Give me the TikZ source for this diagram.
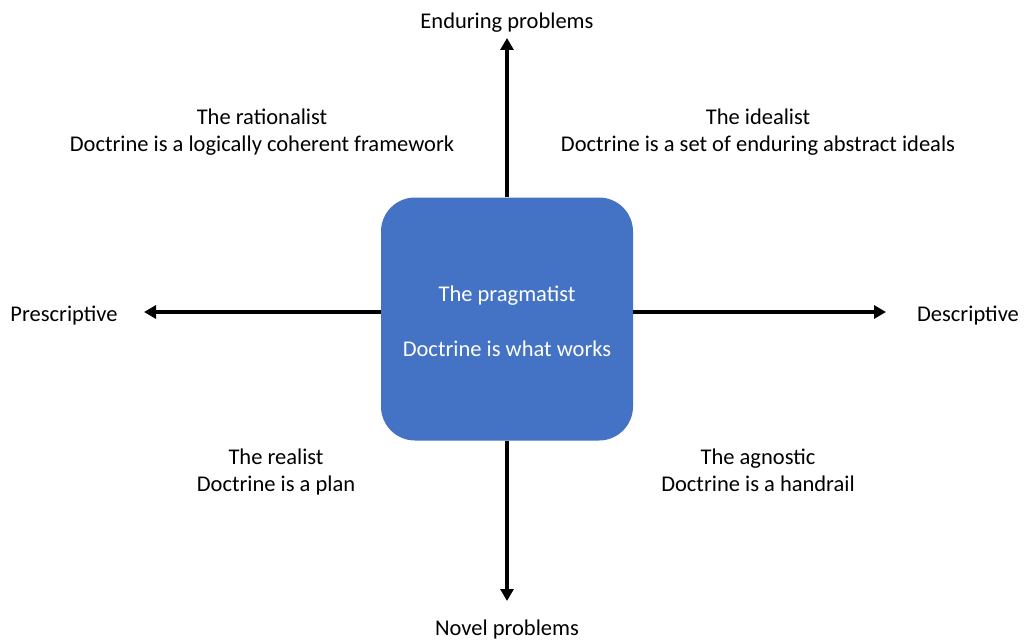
\documentclass[tikz,border=0pt]{standalone}
\usepackage{fontspec}
\setmainfont{Carlito}
\usetikzlibrary{arrows.meta}
\definecolor{boxblue}{HTML}{4472C4}
\begin{document}
\begin{tikzpicture}[x=1pt,y=-1pt,
  lbl/.style={font=\fontsize{22.5}{27}\selectfont, text=black, align=center, inner sep=0pt},
  axis/.style={line width=3.4pt, -{Triangle[length=12pt,width=13pt]}},
  ]
\useasboundingbox (0,0) rectangle (1024,639);
\node[fill=boxblue, rounded corners=34pt, minimum width=252pt, minimum height=243pt, inner sep=0pt] (box) at (507,319) {};
\node[lbl, text=white] (prag) at (507,296) {The pragmatist};
\node[lbl, text=white] (works) at (507,349) {Doctrine is what works};
\coordinate (top) at (507,38);
\coordinate (bot) at (507,601);
\coordinate (left) at (144,312);
\coordinate (right) at (886,312);
\draw[axis] (box.north) -- (top);
\draw[axis] (box.south) -- (bot);
\draw[axis] (box.west) ++(0,-7) -- (left);
\draw[axis] (box.east) ++(0,-7) -- (right);
\node[lbl] (enduring) at (507,22.5) {Enduring problems};
\node[lbl] (novel) at (507,629) {Novel problems};
\node[lbl] (presc) at (64,315.5) {Prescriptive};
\node[lbl] (desc) at (968,315.5) {Descriptive};
\node[lbl] (rat) at (262,132) {The rationalist\\Doctrine is a logically coherent framework};
\node[lbl] (ideal) at (758,132) {The idealist\\Doctrine is a set of enduring abstract ideals};
\node[lbl] (real) at (276,471.5) {The realist\\Doctrine is a plan};
\node[lbl] (agn) at (758,470) {The agnostic\\Doctrine is a handrail};
\end{tikzpicture}
\end{document}
